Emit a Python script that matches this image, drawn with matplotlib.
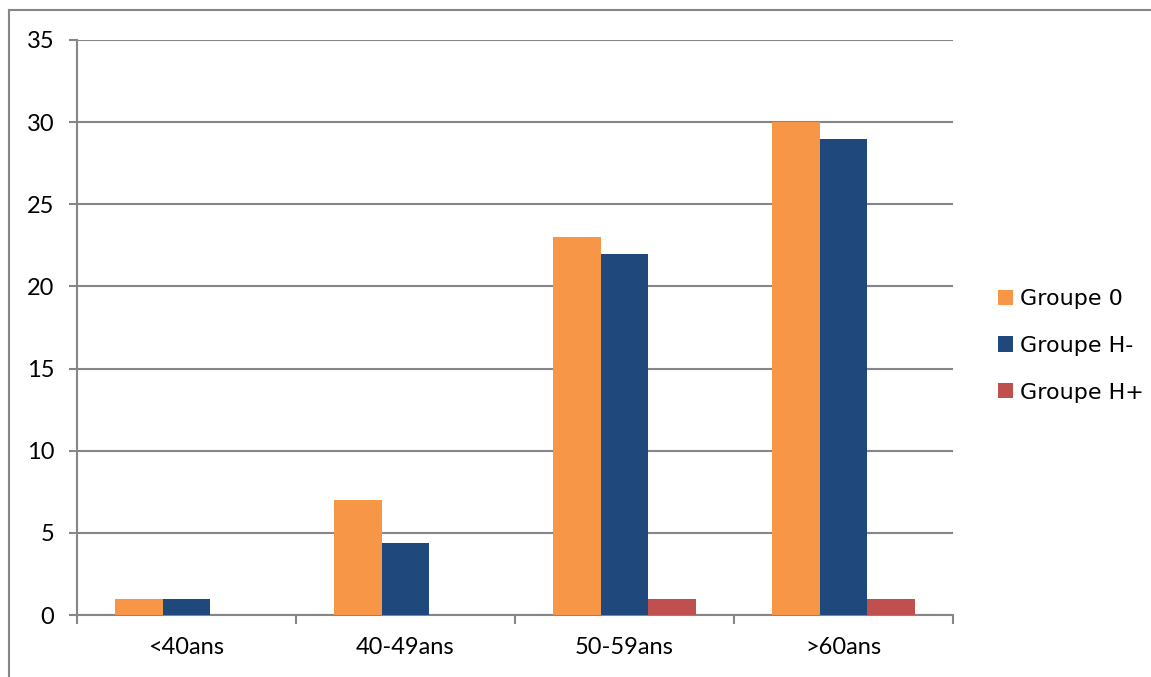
import numpy as np
import matplotlib.pyplot as plt
from matplotlib.lines import Line2D

# data
categories = ["<40ans", "40-49ans", "50-59ans", ">60ans"]
groupe_0 = [1, 7, 23, 30]
groupe_h_moins = [1, 4.4, 22, 29]
groupe_h_plus = [0, 0, 1, 1]
series_names = ["Groupe 0", "Groupe H-", "Groupe H+"]
colors = ["#F79646", "#1F497D", "#C0504D"]
yticks = [0, 5, 10, 15, 20, 25, 30, 35]

grey = "#868686"

fig = plt.figure(figsize=(11.51, 6.77), dpi=100)
ax = fig.add_axes([77/1151, 62/677, 876/1151, 575/677])

x = np.arange(len(categories))
w = 0.219
for k, (vals, name, c) in enumerate(zip([groupe_0, groupe_h_moins, groupe_h_plus], series_names, colors)):
    ax.bar(x + (k - 1) * w, vals, width=w, color=c, label=name, zorder=3)

ax.set_xlim(-0.5, len(categories) - 0.5)
ax.set_ylim(0, 35)
ax.set_yticks(yticks)
ax.set_xticks(x)
ax.set_xticklabels(categories)
ax.set_xticks(np.arange(len(categories) + 1) - 0.5, minor=True)

ax.yaxis.grid(True, color=grey, linewidth=1.5, zorder=0)
ax.set_axisbelow(True)
for s in ["top", "right"]:
    ax.spines[s].set_visible(False)
for s in ["left", "bottom"]:
    ax.spines[s].set_color(grey)
    ax.spines[s].set_linewidth(1.5)

ax.tick_params(axis="y", length=6, width=1.5, color=grey, pad=10.5, labelsize=17)
ax.tick_params(axis="x", which="major", length=0, pad=16, labelsize=17)
ax.tick_params(axis="x", which="minor", length=6.5, width=1.5, color=grey)
for lab in ax.get_xticklabels() + ax.get_yticklabels():
    lab.set_fontfamily("Lato")

leg = ax.legend(loc="center left", bbox_to_anchor=(1.028, 0.468), frameon=False,
                handlelength=0.68, handleheight=0.68, handletextpad=0.32,
                labelspacing=1.2, prop={"family": "DejaVu Sans", "size": 16})

# outer chart frame
fl = 9 / 1151
ft = 1 - 10 / 677
fig.add_artist(Line2D([fl, fl], [0, ft], transform=fig.transFigure, color=grey, lw=1.5))
fig.add_artist(Line2D([fl, 1], [ft, ft], transform=fig.transFigure, color=grey, lw=1.5))

fig.savefig("out.png", dpi=100)
